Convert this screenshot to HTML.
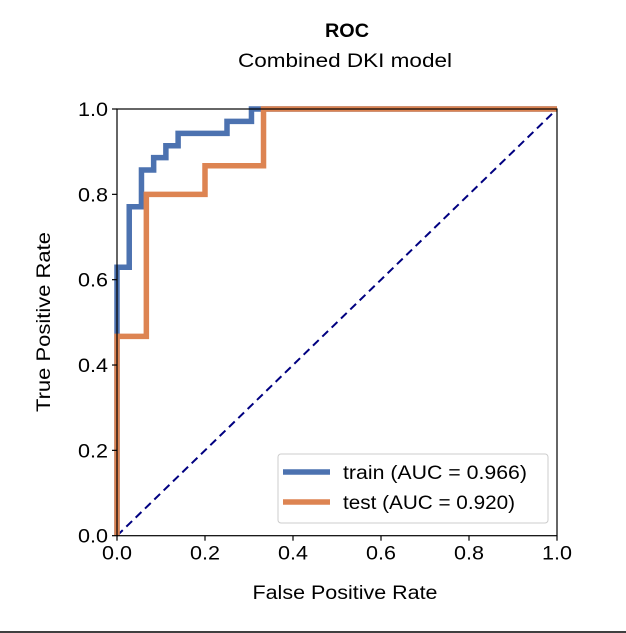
<!DOCTYPE html>
<html><head><meta charset="utf-8"><style>
body{margin:0;background:#fff;}
svg{display:block;font-family:"Liberation Sans","DejaVu Sans",sans-serif;}
</style></head><body>
<svg width="626" height="633">
<rect width="626" height="633" fill="#fff"/>
<text x="347" y="37" text-anchor="middle" font-size="19" font-weight="bold" textLength="44" lengthAdjust="spacingAndGlyphs">ROC</text>
<text x="345" y="67" text-anchor="middle" font-size="19" textLength="214" lengthAdjust="spacingAndGlyphs">Combined DKI model</text>
<g id="plot"></g>
<line x1="0" y1="632" x2="626" y2="632" stroke="#000" stroke-width="1.5"/>
<script>
const trainFpr=[0,0,0.0278,0.0278,0.0556,0.0556,0.0833,0.0833,0.1111,0.1111,0.1389,0.1389,0.25,0.25,0.3056,0.3056,1.0];
const trainTpr=[0,0.629,0.629,0.771,0.771,0.857,0.857,0.886,0.886,0.914,0.914,0.943,0.943,0.971,0.971,1.0,1.0];
const testFpr=[0,0,0.0667,0.0667,0.2,0.2,0.333,0.333,1.0];
const testTpr=[0,0.467,0.467,0.8,0.8,0.867,0.867,1.0,1.0];
const ticks=[0,0.2,0.4,0.6,0.8,1.0];
const tickLabels=["0.0","0.2","0.4","0.6","0.8","1.0"];
const NS="http://www.w3.org/2000/svg";
const X0=117,X1=557,Y0=535.7,Y1=109;
const sx=v=>X0+v*(X1-X0), sy=v=>Y0-v*(Y0-Y1);
const g=document.getElementById('plot');
function mk(t,a){const e=document.createElementNS(NS,t);for(const k in a)e.setAttribute(k,a[k]);g.appendChild(e);return e;}
function line(fx,ty,color,name){
  const p=mk('polyline',{points:fx.map((v,i)=>sx(v)+','+sy(ty[i])).join(' '),fill:'none',stroke:color,'stroke-width':5.5,'stroke-linejoin':'miter'});
  
  
}
const d=mk('line',{x1:sx(0),y1:sy(0),x2:sx(1),y2:sy(1),stroke:'#000080','stroke-width':2,'stroke-dasharray':'8,5'});


line(trainFpr,trainTpr,'#4c72b0','train-curve');
line(testFpr,testTpr,'#dd8452','test-curve');
const fr=mk('rect',{x:X0,y:Y1,width:X1-X0,height:Y0-Y1,fill:'none',stroke:'#000','stroke-width':1.2});


ticks.forEach((t,i)=>{
  mk('line',{x1:sx(t),y1:Y0,x2:sx(t),y2:Y0+5,stroke:'#000','stroke-width':1.2});
  const tx=mk('text',{x:sx(t),y:Y0+24,'text-anchor':'middle','font-size':19,textLength:30,lengthAdjust:'spacingAndGlyphs'});
  tx.textContent=tickLabels[i];
  
  
  mk('line',{x1:X0-5,y1:sy(t),x2:X0,y2:sy(t),stroke:'#000','stroke-width':1.2});
  const ty=mk('text',{x:X0-9,y:sy(t)+7,'text-anchor':'end','font-size':19,textLength:30,lengthAdjust:'spacingAndGlyphs'});
  ty.textContent=tickLabels[i];
  
  
});
const xl=mk('text',{x:345,y:599,'text-anchor':'middle','font-size':19,textLength:185,lengthAdjust:'spacingAndGlyphs'});
xl.textContent='False Positive Rate';


const yl=mk('text',{x:50,y:322,'text-anchor':'middle','font-size':19,textLength:180,lengthAdjust:'spacingAndGlyphs',transform:'rotate(-90 50 322)'});
yl.textContent='True Positive Rate';


const lg=mk('rect',{x:278,y:454,width:270,height:69,rx:3,fill:'#fff','fill-opacity':0.8,stroke:'#ccc','stroke-width':1});


[['#4c72b0','train (AUC = 0.966)',472,184],['#dd8452','test (AUC = 0.920)',502,172]].forEach(([c,t,y,w])=>{
  mk('line',{x1:283,y1:y,x2:330,y2:y,stroke:c,'stroke-width':5.5});
  const e=mk('text',{x:343,y:y+7,'font-size':19,textLength:w,lengthAdjust:'spacingAndGlyphs'});
  e.textContent=t;
  
  
});
</script>
</svg>
</body></html>
